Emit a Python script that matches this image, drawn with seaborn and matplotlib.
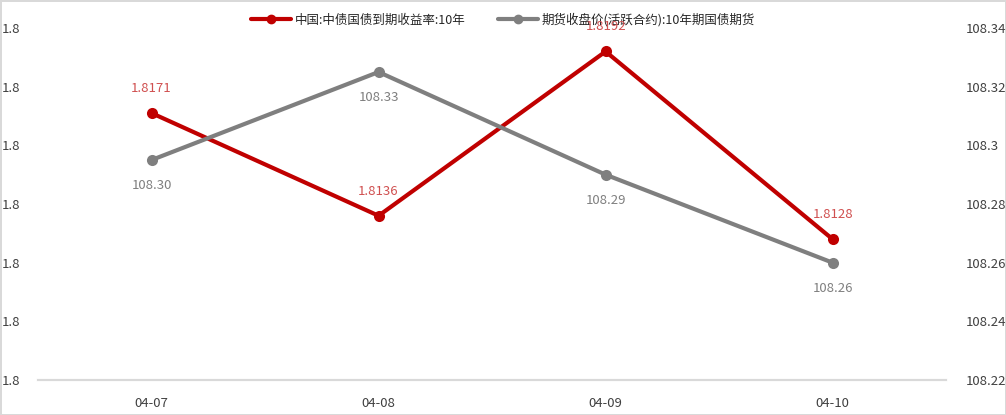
import numpy as np
import pandas as pd
import seaborn as sns
import matplotlib
matplotlib.use('Agg')
from matplotlib import pyplot as plt
from matplotlib.ticker import FormatStrFormatter, FuncFormatter, FixedLocator
from matplotlib.lines import Line2D

dates = ['04-07', '04-08', '04-09', '04-10']
yield_10y = [1.8171, 1.8136, 1.8192, 1.8128]
futures_10y = [108.295, 108.325, 108.29, 108.26]
yield_name = '中国:中债国债到期收益率:10年'
futures_name = '期货收盘价(活跃合约):10年期国债期货'

red = '#c00000'
grey = '#7f7f7f'

sns.set_style('white')
plt.rcParams['font.family'] = ['Noto Sans CJK SC', 'DejaVu Sans']

df = pd.DataFrame({'date': dates, 'yield': yield_10y, 'fut': futures_10y})
df['x'] = np.arange(len(df))

fig = plt.figure(figsize=(10.06, 4.15), dpi=100)
fig.patch.set_edgecolor('#d9d9d9')
fig.patch.set_linewidth(2)
ax = fig.add_axes([0.0378, 0.0843, 0.9027, 0.8482])
ax2 = ax.twinx()

sns.lineplot(data=df, x='x', y='yield', ax=ax, color=red, linewidth=3,
             marker='o', markersize=8, markeredgewidth=0)
sns.lineplot(data=df, x='x', y='fut', ax=ax2, color=grey, linewidth=3,
             marker='o', markersize=8, markeredgewidth=0)

# labels drawn on ax2 so they sit above the legend (which lives on ax)
for i, v in enumerate(yield_10y):
    ax2.annotate(f'{v:.4f}', (i, v), xycoords=ax.transData, xytext=(0, 13),
                 textcoords='offset points', ha='center', va='bottom',
                 color='#d05050', fontsize=9.5, annotation_clip=False)
for i, v in enumerate(futures_10y):
    ax2.annotate(f'{v:.2f}', (i, v), xytext=(0, -14), textcoords='offset points',
                 ha='center', va='top', color=grey, fontsize=9.5)

ax.set_xlim(-0.5, 3.5)
ax.set_ylim(1.808, 1.820)
ax.set_yticks(np.arange(1.808, 1.8201, 0.002))
ax.yaxis.set_major_formatter(FormatStrFormatter('%.1f'))
ax2.set_ylim(108.22, 108.34)
ax2.set_yticks(np.arange(108.22, 108.3401, 0.02))
ax2.yaxis.set_major_formatter(FuncFormatter(lambda v, p: f'{v:.2f}'.rstrip('0')))

ax.set_xticks(df['x'])
ax.set_xticklabels(dates)
ax.xaxis.set_minor_locator(FixedLocator([-0.5, 0.5, 1.5, 2.5, 3.5]))
ax.tick_params(axis='x', which='major', length=0, pad=12, labelsize=9.5, colors='#404040')
ax.tick_params(axis='x', which='minor', length=4, color='#d9d9d9', width=1.2)
ax.tick_params(axis='y', length=0, pad=13, labelsize=9.5, colors='#404040')
ax2.tick_params(axis='y', length=0, pad=14, labelsize=9.5, colors='#404040')
for a in (ax, ax2):
    a.set_xlabel('')
    a.set_ylabel('')
    for s in ['top', 'left', 'right']:
        a.spines[s].set_visible(False)
    a.spines['bottom'].set_color('#d9d9d9')
    a.spines['bottom'].set_linewidth(1.5)

handles = [Line2D([0], [0], color=red, lw=3, marker='o', markersize=6),
           Line2D([0], [0], color=grey, lw=3, marker='o', markersize=6)]
ax.legend(handles, [yield_name, futures_name], loc='upper center',
          bbox_to_anchor=(0.5, 0.99), bbox_transform=fig.transFigure, ncol=2,
          frameon=False, fontsize=9, handlelength=3.2, handletextpad=0.3,
          columnspacing=2.6, borderaxespad=0.3)

fig.savefig('out.png', dpi=100, edgecolor=fig.get_edgecolor())
